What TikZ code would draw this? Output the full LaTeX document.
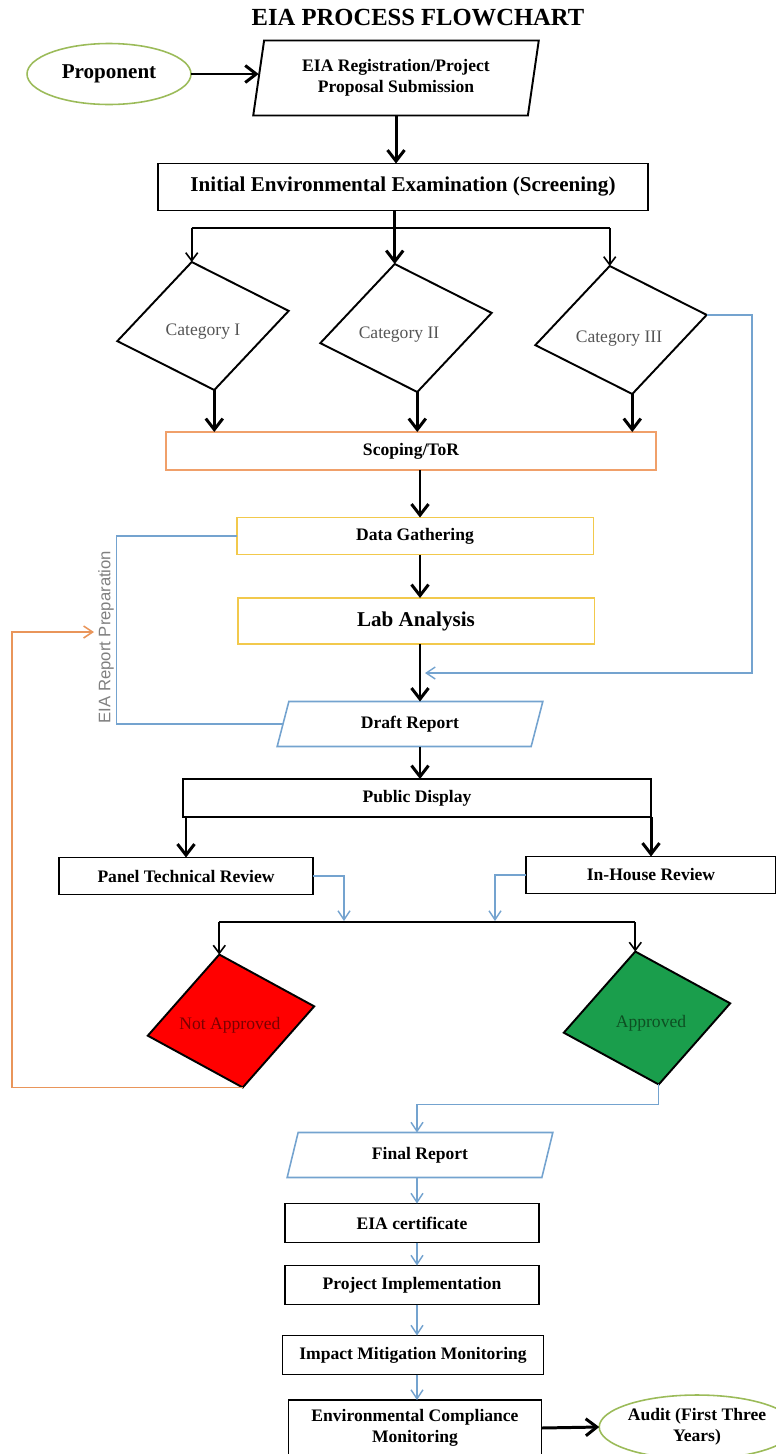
\documentclass[tikz,border=0pt]{standalone}
\usepackage{fontspec}
\setmainfont{Liberation Serif}
\newfontfamily\prepsans{Liberation Sans}
\usetikzlibrary{shapes.geometric,arrows.meta}

\definecolor{propgreen}{HTML}{9BBB59}
\definecolor{scopeorange}{HTML}{F0A06A}
\definecolor{goldline}{HTML}{F2C94C}
\definecolor{steelline}{HTML}{74A3CF}
\definecolor{orangeline}{HTML}{E9955A}
\definecolor{okgreen}{HTML}{1A9E4C}
\definecolor{aptextcol}{HTML}{0D4F22}
\definecolor{naptextcol}{HTML}{7A0000}
\definecolor{catgray}{HTML}{555555}
\definecolor{prepgray}{HTML}{808080}

\begin{document}
\begin{tikzpicture}[x=0.02cm,y=-0.02cm,
  box/.style={draw,line width=1.1pt,rectangle,minimum width=#1,inner sep=1pt,outer sep=0pt,
    font=\bfseries\fontsize{10}{12}\selectfont},
  report/.style={trapezium,trapezium left angle=#1,trapezium right angle=180-#1,
    trapezium stretches=true,draw=steelline,line width=0.9pt,inner sep=1pt,outer sep=0pt,
    font=\bfseries\fontsize{10}{12}\selectfont,align=center},
  oval/.style={ellipse,draw=propgreen,line width=0.9pt,inner sep=0pt,outer sep=0pt,align=center},
  catshape/.style={diamond,draw,line width=1.1pt,minimum width=3.48cm,minimum height=2.6cm,
    rotate=10,inner sep=0pt,outer sep=0pt},
  decshape/.style={diamond,draw,line width=1.1pt,minimum width=3.38cm,minimum height=2.7cm,
    rotate=10,inner sep=0pt,outer sep=0pt},
  cattext/.style={text=catgray,font=\fontsize{10}{12}\selectfont},
  bigarrow/.style={line width=1.7pt,-{Straight Barb[length=2.2mm,width=3.4mm]}},
  midarrow/.style={line width=0.9pt,-{Straight Barb[length=1.6mm,width=2.4mm]}},
  midline/.style={line width=1.1pt},
  bluearrow/.style={draw=steelline,line width=0.8pt,-{Straight Barb[length=1.8mm,width=2.4mm]}},
  blueline/.style={draw=steelline,line width=0.8pt},
  orangearrow/.style={draw=orangeline,line width=0.9pt,-{Straight Barb[length=1.8mm,width=2.4mm]}}]

\useasboundingbox (0,0) rectangle (776,1454);

\node[font=\bfseries\fontsize{14}{17}\selectfont] (title) at (418,18) {EIA PROCESS FLOWCHART};

% submission
\node[oval,minimum width=3.28cm,minimum height=1.22cm,font=\bfseries\fontsize{12}{14}\selectfont] (prop) at (109,74) {Proponent};
\node[report=79,draw=black,line width=1.1pt,minimum width=5.72cm,minimum height=1.5cm] (reg) at (396,78) {EIA Registration/Project\\Proposal Submission};
\node[box=9.8cm,minimum height=0.94cm,font=\bfseries\fontsize{12}{14}\selectfont] (iee) at (403,187) {Initial Environmental Examination (Screening)};

% screening categories
\foreach \n/\x/\y/\tx/\ty/\t in {1/203/326/203/332/I, 2/406/328/399/335/II, 3/621/330/619/339/III}{
  \node[catshape] (cat\n) at (\x,\y) {};
  \node[cattext] (cat\n text) at (\tx,\ty) {Category \t};
}

\node[box=9.8cm,draw=scopeorange,minimum height=0.76cm] (scope) at (411,451) {Scoping/ToR};
\node[box=7.14cm,draw=goldline,minimum height=0.74cm] (data) at (415,536) {Data Gathering};
\node[box=7.14cm,draw=goldline,minimum height=0.92cm,font=\bfseries\fontsize{12}{14}\selectfont] (lab) at (416,621) {Lab Analysis};
\node[report=76,minimum width=5.34cm,minimum height=0.9cm] (draft) at (410,724) {Draft Report};
\node[text=prepgray,font=\prepsans\fontsize{9.5}{11}\selectfont,rotate=90] (prep) at (106,637) {EIA Report Preparation};

% review
\node[box=9.36cm,minimum height=0.76cm] (pub) at (417,798) {Public Display};
\node[box=5.08cm,minimum height=0.74cm] (panel) at (186,876) {Panel Technical Review};
\node[box=5cm,minimum height=0.74cm] (inhouse) at (651,875) {In-House Review};

% decision
\node[decshape,fill=red] (nap) at (231,1021) {};
\node[text=naptextcol,font=\fontsize{10}{12}\selectfont] (naptext) at (230,1025) {Not Approved};
\node[decshape,fill=okgreen] (ap) at (647,1018) {};
\node[text=aptextcol,font=\fontsize{10}{12}\selectfont] (aptext) at (651,1023) {Approved};

% after approval
\node[report=77,minimum width=5.34cm,minimum height=0.9cm] (final) at (420,1155) {Final Report};
\node[box=5.08cm,minimum height=0.78cm] (cert) at (412,1223) {EIA certificate};
\node[box=5.08cm,minimum height=0.78cm] (impl) at (412,1285) {Project Implementation};
\node[box=5.22cm,minimum height=0.78cm] (impact) at (413,1355) {Impact Mitigation Monitoring};
\node[box=5.06cm,minimum height=1.12cm,align=center] (ecm) at (415,1428) {Environmental Compliance\\Monitoring};
\node[oval,minimum width=3.28cm,minimum height=1.28cm,font=\bfseries\fontsize{10}{12}\selectfont] (audit) at (697,1427) {Audit (First Three\\Years)};

% connectors
\coordinate (spine) at (420,0);
\coordinate (lowspine) at (417,0);
\coordinate (split) at (0,228);
\coordinate (dec) at (0,922);
\coordinate (merge) at (425,673);
\coordinate (back) at (94,632);
\coordinate (jl) at (344,921);
\coordinate (jr) at (495,921);

\draw[bigarrow] (prop.east) -- (prop.east -| reg.west);
\draw[bigarrow] (reg.south) -- (reg.south |- iee.north);
\draw[bigarrow] (cat2.north |- iee.south) -- (cat2.north);
\draw[midline] (cat1.north |- split) -- (cat3.north |- split);
\draw[midarrow] (cat1.north |- split) -- (cat1.north);
\draw[midarrow] (cat3.north |- split) -- (cat3.north);
\foreach \n in {1,2,3}
  \draw[bigarrow] (cat\n.south) -- (cat\n.south |- scope.north);

\draw[bigarrow] (scope.south -| spine) -- (data.north -| spine);
\draw[bigarrow] (data.south -| spine) -- (lab.north -| spine);
\draw[bigarrow] (lab.south -| spine) -- (draft.north -| spine);
\draw[bluearrow] (cat3.east) -| (752,673) -- (merge);
\draw[blueline] (data.west) -- ++(-120,0) |- (draft.west);

\draw[bigarrow] (draft.south -| spine) -- (pub.north -| spine);
\draw[bigarrow] (panel.north |- pub.south) -- (panel.north);
\draw[bigarrow] (inhouse.north |- pub.south) -- (inhouse.north);
\draw[bluearrow] (panel.east) -| (jl);
\draw[bluearrow] (inhouse.west) -| (jr);

\draw[midline] (nap.north |- dec) -- (ap.north |- dec);
\draw[midarrow] (nap.north |- dec) -- (nap.north);
\draw[midarrow] (ap.north |- dec) -- (ap.north);
\draw[orangearrow] (nap.south) -| (12,632) -- (back);
\draw[bluearrow] (ap.south) -- ++(0,20) -| (final.north -| lowspine);

\foreach \a/\b in {final/cert, cert/impl, impl/impact, impact/ecm}
  \draw[bluearrow] (\a.south -| lowspine) -- (\b.north -| lowspine);
\draw[bigarrow] (ecm.east) -- (audit.west);

\end{tikzpicture}
\end{document}
